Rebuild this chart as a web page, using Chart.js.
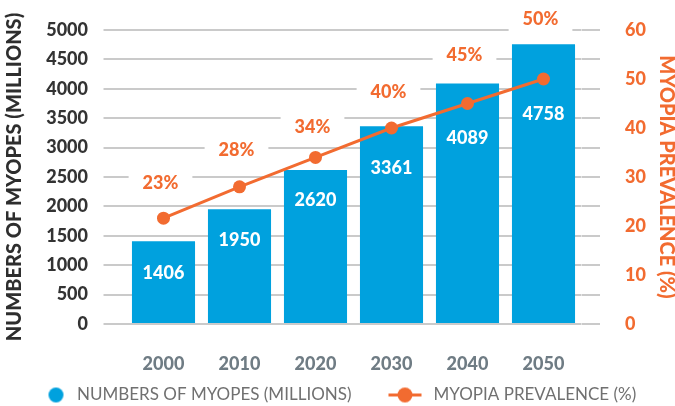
<!DOCTYPE html>
<html>
<head>
<meta charset="utf-8">
<script src="https://cdn.jsdelivr.net/npm/chart.js@4.4.0/dist/chart.umd.min.js"></script>
<style>
html,body{margin:0;padding:0;background:#ffffff;}
#wrap{width:675px;height:406px;}
</style>
</head>
<body>
<div id="wrap"><canvas id="c" width="675" height="406"></canvas></div>
<script>
// ---- data ----
const years = ['2000', '2010', '2020', '2030', '2040', '2050'];
const myopes = [1406, 1950, 2620, 3361, 4089, 4758];
const prevalence = [21.6, 28, 34, 40, 45, 50];
const prevalenceLabels = ['23%', '28%', '34%', '40%', '45%', '50%'];
const seriesNames = ['NUMBERS OF MYOPES (MILLIONS)', 'MYOPIA PREVALENCE (%)'];
const leftAxisTitle = 'NUMBERS OF MYOPES (MILLIONS)';
const rightAxisTitle = 'MYOPIA PREVALENCE (%)';

// ---- styles ----
const FONT = "Lato, 'Open Sans', sans-serif";
const HEAVY = 900;
const BLUE = '#00a1de';
const ORANGE = '#f26b30';
const GRID = '#cacaca';
const ICON_W = 64;

function legendIcon(kind) {
  const cv = document.createElement('canvas');
  cv.width = ICON_W; cv.height = 17;
  const g = cv.getContext('2d');
  if (kind === 'bar') {
    g.fillStyle = BLUE;
    g.beginPath(); g.arc(51.5, 8.5, 7.5, 0, Math.PI * 2); g.fill();
  } else {
    g.strokeStyle = ORANGE; g.lineWidth = 3;
    g.beginPath(); g.moveTo(27.5, 8.5); g.lineTo(60.5, 8.5); g.stroke();
    g.fillStyle = ORANGE;
    g.beginPath(); g.arc(44, 8.5, 7.5, 0, Math.PI * 2); g.fill();
  }
  return cv;
}

const labelPlugin = {
  id: 'valueLabels',
  beforeDatasetsDraw(chart, args, opts) {
    const ctx = chart.ctx;
    const meta = chart.getDatasetMeta(1);
    ctx.save();
    ctx.font = HEAVY + ' 18px ' + FONT;
    ctx.fillStyle = '#ffffff';
    meta.data.forEach((pt, i) => {
      const x = pt.x + opts.pctShift;
      const y = pt.y - opts.pctLift[i];
      const w = ctx.measureText(prevalenceLabels[i]).width + 28;
      ctx.fillRect(x - w / 2, y - 15, w, 30);
    });
    ctx.restore();
  },
  afterDatasetsDraw(chart, args, opts) {
    const ctx = chart.ctx;
    ctx.save();
    ctx.font = HEAVY + ' 18px ' + FONT;
    ctx.textAlign = 'center';
    ctx.textBaseline = 'middle';
    ctx.fillStyle = '#ffffff';
    chart.getDatasetMeta(0).data.forEach((bar, i) => {
      ctx.fillText(String(myopes[i]), bar.x, bar.y + opts.barDrop[i]);
    });
    ctx.fillStyle = ORANGE;
    chart.getDatasetMeta(1).data.forEach((pt, i) => {
      ctx.fillText(prevalenceLabels[i], pt.x + opts.pctShift, pt.y - opts.pctLift[i]);
    });
    ctx.restore();
  }
};

new Chart(document.getElementById('c'), {
  data: {
    labels: years,
    datasets: [
      {
        type: 'bar',
        label: seriesNames[0],
        data: myopes,
        backgroundColor: BLUE,
        yAxisID: 'y',
        categoryPercentage: 1,
        barPercentage: 0.83,
        order: 1
      },
      {
        type: 'line',
        label: seriesNames[1],
        data: prevalence,
        borderColor: ORANGE,
        backgroundColor: ORANGE,
        borderWidth: 3,
        pointRadius: 6.5,
        pointBackgroundColor: ORANGE,
        pointBorderWidth: 0,
        yAxisID: 'y1',
        order: 0
      }
    ]
  },
  options: {
    responsive: false,
    animation: false,
    devicePixelRatio: 1,
    layout: { padding: { left: -5, right: 0, top: 30, bottom: -7.5 } },
    scales: {
      x: {
        type: 'category',
        offset: true,
        grid: { display: false },
        border: { display: false },
        ticks: { color: '#6f7c84', font: { family: FONT, size: 18, weight: HEAVY }, padding: 21 },
        afterFit(s) { s.height = 53; }
      },
      y: {
        position: 'left',
        min: 0, max: 5000,
        ticks: {
          stepSize: 500, color: '#333333', font: { family: FONT, size: 18, weight: HEAVY }, padding: 15.5,
          callback: (v) => String(v)
        },
        grid: { color: GRID, lineWidth: 2, tickLength: 22 },
        border: { display: false },
        title: {
          display: true, text: leftAxisTitle, color: '#2e2e2e',
          font: { family: FONT, size: 20, weight: HEAVY }, padding: { top: 8, bottom: 0 }
        },
        afterFit(s) { s.width = 130.5; }
      },
      y2: {
        position: 'right',
        min: 0, max: 5000,
        ticks: { stepSize: 500, display: false },
        grid: { drawOnChartArea: false, color: GRID, lineWidth: 2, tickLength: 18.5 },
        border: { display: false },
        afterFit(s) { s.width = 18.5; }
      },
      y1: {
        position: 'right',
        weight: 1,
        min: 0, max: 60,
        ticks: { stepSize: 10, color: ORANGE, font: { family: FONT, size: 18, weight: HEAVY }, padding: 17 },
        grid: { display: false },
        border: { display: false },
        title: {
          display: true, text: rightAxisTitle, color: ORANGE,
          font: { family: FONT, size: 20, weight: HEAVY }, padding: { top: -3, bottom: 0 }
        },
        afterFit(s) { s.width = 75; }
      }
    },
    plugins: {
      tooltip: { enabled: false },
      legend: {
        position: 'bottom',
        align: 'start',
        labels: {
          usePointStyle: true,
          pointStyleWidth: ICON_W,
          padding: 9.5,
          color: '#707070',
          font: { family: FONT, size: 17 },
          generateLabels() {
            return [
              { text: seriesNames[0], pointStyle: legendIcon('bar'), datasetIndex: 0, fillStyle: BLUE, strokeStyle: BLUE, lineWidth: 0, fontColor: '#707070', hidden: false },
              { text: seriesNames[1], pointStyle: legendIcon('line'), datasetIndex: 1, fillStyle: ORANGE, strokeStyle: ORANGE, lineWidth: 0, fontColor: '#707070', hidden: false }
            ];
          }
        }
      },
      valueLabels: {
        pctShift: -3,
        pctLift: [35, 37, 30, 36, 48, 60],
        barDrop: [32, 31, 30, 42, 55, 70]
      }
    }
  },
  plugins: [labelPlugin]
});
</script>
</body>
</html>
